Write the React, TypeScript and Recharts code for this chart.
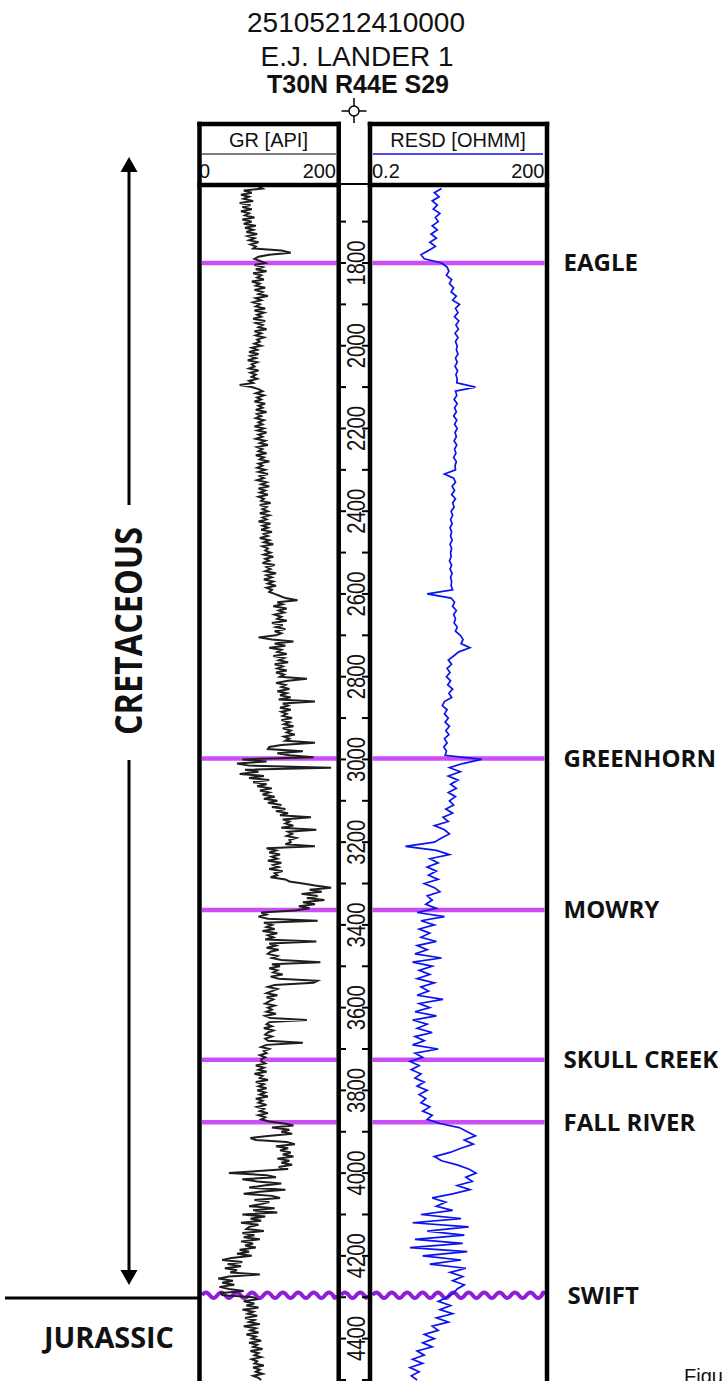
import React from "react";
import { LineChart, Line, XAxis, YAxis, ReferenceLine } from "recharts";

const W = 724;
const H = 1381;

const DEPTH_DOMAIN: [number, number] = [1611.5, 4502.5];
const DEPTH_TICKS = [
  1700, 1800, 1900, 2000, 2100, 2200, 2300, 2400, 2500, 2600, 2700, 2800, 2900, 3000, 3100,
  3200, 3300, 3400, 3500, 3600, 3700, 3800, 3900, 4000, 4100, 4200, 4300, 4400, 4500,
];

// GR [API] sampled every 5 ft from 1615 ft, one list per formation interval
const GR_START = 1615;
const GR_STEP = 5;
const GR_ABOVE_EAGLE = [
  84, 90, 62, 74, 58, 70, 62, 76, 56, 72, 60, 74, 58, 70, 64, 78, 60, 74, 62, 80,
  64, 76, 66, 82, 68, 78, 70, 84, 72, 80, 76, 118, 132, 100, 84, 78, 86,
];
const GR_EAGLE = [
  94, 78, 90, 80, 96, 76, 88, 82, 92, 74, 86, 80, 94, 78, 90, 84, 98, 80, 88, 76,
  86, 80, 94, 78, 92, 82, 88, 76, 94, 80, 90, 84, 96, 78, 88, 80, 92, 82, 86, 78,
  88, 74, 82, 70, 84, 72, 80, 68, 82, 74, 78, 70, 84, 72, 80, 74, 82, 70, 76, 56,
  74, 84, 90, 80, 92, 82, 88, 78, 94, 84, 90, 80, 96, 82, 88, 80, 92, 84, 90, 78,
  92, 82, 96, 84, 90, 80, 94, 86, 98, 82, 90, 84, 96, 80, 92, 86, 100, 84, 90, 82,
  94, 84, 98, 86, 92, 82, 96, 88, 100, 84, 94, 86, 98, 84, 92, 88, 102, 86, 96, 90,
  98, 86, 100, 90, 96, 84, 102, 90, 98, 88, 104, 92, 98, 86, 100, 92, 106, 90, 98, 94,
  102, 92, 106, 94, 100, 90, 108, 96, 102, 94, 110, 96, 104, 92, 106, 98, 110, 96, 104, 100,
  108, 116, 124, 142, 112, 120, 106, 126, 114, 122, 108, 118, 112, 126, 104, 120, 110, 124, 108, 118,
  110, 84, 104, 136, 108, 124, 100, 118, 112, 126, 106, 122, 114, 128, 108, 120, 112, 126, 110, 122,
  116, 156, 128, 110, 124, 118, 130, 112, 126, 116, 132, 114, 168, 120, 128, 116, 132, 118, 126, 120,
  134, 118, 130, 122, 136, 120, 132, 126, 138, 122, 130, 124, 168, 118, 100, 98, 150, 112, 130, 166,
];
const GR_GREENHORN = [
  60, 96, 52, 70, 192, 64, 84, 56, 92, 70, 100, 76, 96, 82, 104, 86, 100, 90, 108, 92,
  112, 98, 118, 104, 124, 110, 128, 116, 162, 120, 130, 124, 136, 118, 170, 128, 134, 126, 140, 130,
  132, 124, 168, 96, 110, 100, 116, 104, 112, 98, 118, 106, 114, 100, 120, 108, 112, 102, 124, 130,
  150, 168, 192, 160, 178, 148, 172, 156, 182, 150, 168, 144, 160, 138,
];
const GR_MOWRY = [
  88, 96, 84, 98, 172, 92, 104, 96, 108, 90, 112, 98, 106, 94, 170, 100, 110, 96, 114, 102,
  98, 112, 104, 118, 176, 104, 116, 100, 112, 106, 120, 102, 114, 172, 166, 108, 98, 112, 104, 96,
  112, 96, 106, 100, 94, 108, 98, 104, 96, 110, 94, 102, 156, 100, 96, 104, 92, 106, 98, 94,
  104, 94, 98, 150, 96, 88, 100, 92, 96, 86, 94, 88,
];
const GR_SKULL_CREEK = [
  88, 94, 80, 92, 84, 96, 78, 90, 86, 98, 80, 92, 84, 96, 82, 94, 86, 98, 80, 90,
  84, 96, 82, 92, 86, 98, 84, 94, 88, 100,
];
const GR_FALL_RIVER = [
  122, 136, 104, 130, 118, 134, 98, 72, 80, 126, 138, 110, 128, 116, 132, 120, 136, 112, 130, 118,
  134, 114, 128, 84, 40, 96, 110, 60, 82, 118, 92, 70, 124, 86, 62, 104, 116, 78, 100, 88,
  70, 108, 76, 112, 60, 94, 72, 88, 58, 84, 70, 66, 92, 60, 78, 62, 86, 58, 76, 64,
  80, 56, 70, 52, 74, 44, 30, 60, 38, 58, 34, 52, 42, 86, 40, 24, 46, 30, 48, 26, 40, 62, 28,
];
const GR_SWIFT = [
  30, 76, 82, 62, 78, 66, 84, 60, 76, 68, 82, 64, 78, 70, 86, 62, 80, 72, 84, 66,
  80, 74, 88, 70, 82, 76, 90, 72, 84, 78, 88, 74, 82, 78, 92, 76, 86, 80, 90, 76, 84, 88,
];

// RESD [OHMM] sampled every 10 ft from 1620 ft, same intervals
const RESD_START = 1620;
const RESD_STEP = 10;
const RESD_ABOVE_EAGLE = [3.2, 2.4, 2.9, 2.2, 2.7, 2.3, 3.0, 2.5, 2.8, 2.2, 2.7, 2.1, 2.6, 2.0, 2.5, 1.9, 1.4, 1.6];
const RESD_EAGLE = [
  3.2, 4.0, 4.3, 3.9, 4.8, 4.4, 5.2, 4.7, 5.8, 5.0, 6.6, 5.6, 6.2, 5.4, 6.4, 5.7, 6.3, 5.5, 6.2, 5.6, 6.0,
  5.8, 6.2, 5.6, 6.0, 5.5, 6.1, 5.7, 6.0, 5.9,
  12.5,
  5.6, 5.9, 5.3, 6.0, 5.4, 5.8, 5.2, 5.9, 5.4, 6.0, 5.5, 5.8, 5.3, 5.9, 5.4, 5.7, 5.2, 5.8, 5.5, 5.6,
  3.6, 5.2, 5.6, 4.9, 5.4, 4.8, 5.6, 5.0, 5.3, 4.7, 5.0, 4.6, 4.9, 4.5, 4.8, 4.6, 4.9, 4.5, 4.8, 4.6, 4.7, 4.4, 4.8, 4.5, 4.9, 4.6, 4.8, 4.7, 5.0, 1.8,
  4.7, 5.4, 5.0, 5.8, 5.2, 5.6, 5.3, 6.0, 5.6, 6.8, 7.6, 7.0, 10.0, 6.4, 5.2, 4.2, 4.8, 4.0, 4.5, 3.9,
  4.6, 4.1, 5.0, 4.3, 4.8, 3.6, 3.3, 4.0, 3.6, 4.2, 3.7, 4.4, 3.8, 4.3, 3.6, 4.0, 3.5, 3.9, 3.7,
];
const RESD_GREENHORN = [
  16, 7.5, 4.4, 6.8, 4.2, 6.2, 4.6, 5.8, 4.2, 5.6, 4.4, 5.2, 3.8, 5.0, 3.4, 4.2, 2.4, 3.6, 4.4, 3.2,
  2.4, 0.75, 2.6, 4.4, 2.0, 2.8, 1.8, 2.6, 1.9, 2.8, 1.6, 2.4, 3.0, 1.8, 2.2, 1.7, 2.6,
];
const RESD_MOWRY = [
  1.2, 3.6, 1.4, 2.4, 1.3, 2.0, 1.4, 2.6, 1.2, 1.8, 1.1, 3.2, 1.0, 2.2, 1.3, 2.0, 1.2, 2.4, 1.4, 1.9,
  1.2, 3.4, 1.3, 2.0, 1.1, 2.6, 1.0, 1.8, 1.2, 2.2, 1.1, 1.6, 1.0, 2.8, 1.1, 1.5,
];
const RESD_SKULL_CREEK = [0.9, 1.3, 0.95, 1.4, 1.1, 1.6, 1.2, 1.8, 1.3, 1.7, 1.4, 2.0, 1.5, 2.2, 1.8];
const RESD_FALL_RIVER = [
  3.0, 6.5, 9.0, 12.5, 8.0, 11.5, 7.0, 4.5, 2.4, 3.2, 6.0, 9.5, 12.8, 8.5, 11.0, 6.0, 10.0, 5.0, 2.2, 3.8,
  2.6, 5.0, 1.4, 7.0, 1.0, 9.5, 1.8, 8.0, 1.1, 7.5, 0.9, 9.0, 1.5, 7.0, 2.0, 8.5, 4.5, 7.5, 5.0, 8.0, 6.0, 5.2,
];
const RESD_SWIFT = [4.0, 2.8, 4.6, 3.0, 5.0, 2.6, 4.2, 2.2, 2.8, 1.6, 2.4, 1.5, 2.2, 1.2, 1.6, 1.0, 1.5, 0.9, 1.3, 0.95, 1.2];

// formation tops (ft)
const FORMATIONS = ["EAGLE", "GREENHORN", "MOWRY", "SKULL CREEK", "FALL RIVER", "SWIFT"];
const TOP_DEPTHS = [1800, 2998, 3364, 3726, 3877, 4295];

const GR = [
  ...GR_ABOVE_EAGLE, ...GR_EAGLE, ...GR_GREENHORN, ...GR_MOWRY,
  ...GR_SKULL_CREEK, ...GR_FALL_RIVER, ...GR_SWIFT,
];
const RESD = [
  ...RESD_ABOVE_EAGLE, ...RESD_EAGLE, ...RESD_GREENHORN, ...RESD_MOWRY,
  ...RESD_SKULL_CREEK, ...RESD_FALL_RIVER, ...RESD_SWIFT,
];
const grRows = GR.map((gr, i) => ({ depth: GR_START + i * GR_STEP, gr }));
const resdRows = RESD.map((resd, i) => ({ depth: RESD_START + i * RESD_STEP, resd }));

const TOP_COLOR = "#cc4cf5";
const SWIFT_COLOR = "#8f1ed8";
const LABEL_FONT = "'Open Sans', 'DejaVu Sans', sans-serif";
const HEAD_FONT = "'Liberation Sans', Arial, sans-serif";

const abs: React.CSSProperties = { position: "absolute", left: 0, top: 0 };

// unconformity drawn as a wave along the reference line
const wavyLine = (p: any) => {
  const { x1, x2, y1 } = p;
  const half = 7.7;
  let d = `M${x1},${y1}`;
  let up = true;
  for (let x = x1; x < x2 - 0.5; x += half) {
    const nx = Math.min(x + half, x2);
    d += ` Q${(x + nx) / 2},${y1 + (up ? -5.5 : 5.5)} ${nx},${y1}`;
    up = !up;
  }
  return <path d={d} stroke={SWIFT_COLOR} strokeWidth={4} fill="none" />;
};

const topLabel = (name: string, dx: number) => (p: any) => {
  const vb = p.viewBox || {};
  return (
    <text
      x={vb.x + vb.width + dx}
      y={vb.y}
      dy="0.35em"
      fontFamily={LABEL_FONT}
      fontWeight={700}
      fontSize={24}
      fill="#111"
    >
      {name}
    </text>
  );
};

const DepthTick = (p: any) => {
  const { x, y, payload } = p;
  const d = payload.value;
  return (
    <g>
      <line x1={x} x2={x + 5} y1={y} y2={y} stroke="#000" strokeWidth={2} />
      <line x1={x + 21} x2={x + 27} y1={y} y2={y} stroke="#000" strokeWidth={2} />
      {d % 200 === 0 && (
        <text
          x={x + 24}
          y={y}
          transform={`rotate(-90 ${x + 24} ${y})`}
          textAnchor="middle"
          fontFamily={HEAD_FONT}
          fontSize={25}
          textLength={45}
          lengthAdjust="spacingAndGlyphs"
          fill="#111"
        >
          {d}
        </text>
      )}
    </g>
  );
};

function formationLines(withLabels: boolean) {
  return FORMATIONS.map((name, i) => {
    const isSwift = name === "SWIFT";
    return (
      <ReferenceLine
        key={name}
        y={TOP_DEPTHS[i]}
        stroke={TOP_COLOR}
        strokeWidth={4.5}
        ifOverflow="visible"
        shape={isSwift ? wavyLine : undefined}
        label={withLabels ? topLabel(name, isSwift ? 23 : 19) : undefined}
      />
    );
  });
}

export default function App() {
  return (
    <div style={{ ...abs, width: W, height: H, overflow: "hidden", background: "#fff" }}>
      {/* GR track */}
      <LineChart
        layout="vertical"
        width={W}
        height={H}
        data={grRows}
        margin={{ top: 185, bottom: 0, left: 202, right: W - 336.5 }}
        style={abs}
      >
        <XAxis type="number" domain={[0, 200]} allowDataOverflow hide />
        <YAxis type="number" dataKey="depth" domain={DEPTH_DOMAIN} allowDataOverflow hide />
        {formationLines(false)}
        <Line
          dataKey="gr"
          stroke="#1e1e1e"
          strokeWidth={2}
          dot={false}
          isAnimationActive={false}
          type="linear"
        />
      </LineChart>

      {/* depth track: plot spans 341..368 */}
      <LineChart
        layout="vertical"
        width={W}
        height={H}
        data={grRows}
        margin={{ top: 185, bottom: 0, left: 314, right: W - 368 }}
        style={abs}
      >
        <XAxis type="number" domain={[0, 200]} hide />
        <YAxis
          type="number"
          dataKey="depth"
          domain={DEPTH_DOMAIN}
          allowDataOverflow
          ticks={DEPTH_TICKS}
          interval={0}
          width={27}
          tickSize={0}
          tickMargin={0}
          axisLine={false}
          tickLine={false}
          tick={<DepthTick />}
        />
        <Line dataKey="gr" stroke="none" dot={false} isAnimationActive={false} />
        <ReferenceLine y={TOP_DEPTHS[5]} ifOverflow="visible" shape={wavyLine} />
      </LineChart>

      {/* RESD track */}
      <LineChart
        layout="vertical"
        width={W}
        height={H}
        data={resdRows}
        margin={{ top: 185, bottom: 0, left: 372.5, right: W - 544.5 }}
        style={abs}
      >
        <XAxis type="number" scale="log" domain={[0.2, 200]} allowDataOverflow hide />
        <YAxis type="number" dataKey="depth" domain={DEPTH_DOMAIN} allowDataOverflow hide />
        {formationLines(true)}
        <Line
          dataKey="resd"
          stroke="#0a14f0"
          strokeWidth={1.7}
          dot={false}
          isAnimationActive={false}
          type="linear"
        />
      </LineChart>

      {/* header, borders and annotations */}
      <svg width={W} height={H} style={{ ...abs, pointerEvents: "none" }}>
        <g fontFamily={HEAD_FONT} fill="#111" textAnchor="middle">
          <text x={356} y={32} fontSize={28}>25105212410000</text>
          <text x={357} y={66} fontSize={28}>E.J. LANDER 1</text>
          <text x={358} y={93} fontSize={25} fontWeight={700}>T30N R44E S29</text>
          <text x={268.5} y={147} fontSize={20}>GR [API]</text>
          <text x={458} y={147} fontSize={20}>RESD [OHMM]</text>
          <text x={199} y={178} fontSize={20} textAnchor="start">0</text>
          <text x={336} y={178} fontSize={20} textAnchor="end">200</text>
          <text x={372} y={178} fontSize={20} textAnchor="start">0.2</text>
          <text x={544.5} y={178} fontSize={20} textAnchor="end">200</text>
        </g>

        {/* well symbol */}
        <circle cx={354} cy={111} r={5} fill="#fff" stroke="#000" strokeWidth={1.5} />
        <line x1={341.5} x2={349} y1={111} y2={111} stroke="#000" strokeWidth={1.5} />
        <line x1={359} x2={366.5} y1={111} y2={111} stroke="#000" strokeWidth={1.5} />
        <line x1={354} x2={354} y1={98} y2={106} stroke="#000" strokeWidth={1.5} />
        <line x1={354} x2={354} y1={116} y2={123} stroke="#000" strokeWidth={1.5} />

        <line x1={202} x2={336} y1={154} y2={154} stroke="#555" strokeWidth={1.5} />
        <line x1={373} x2={543} y1={154} y2={154} stroke="#1010ee" strokeWidth={1.5} />

        <g stroke="#000" strokeWidth={4.5}>
          <line x1={197.25} x2={341} y1={124} y2={124} />
          <line x1={367.75} x2={549.25} y1={124} y2={124} />
          <line x1={197.25} x2={341} y1={185} y2={185} />
          <line x1={367.75} x2={549.25} y1={185} y2={185} />
          <line x1={199.5} x2={199.5} y1={121.75} y2={H} />
          <line x1={338.7} x2={338.7} y1={121.75} y2={H} />
          <line x1={370} x2={370} y1={121.75} y2={H} />
          <line x1={547} x2={547} y1={121.75} y2={H} />
        </g>
        <line x1={339} x2={370} y1={184} y2={184} stroke="#000" strokeWidth={2} />

        {/* Cretaceous range arrow */}
        <line x1={129} x2={129} y1={170} y2={505} stroke="#000" strokeWidth={3} />
        <polygon points="129,157 120.5,172 137.5,172" fill="#000" />
        <text
          x={141.5}
          y={631}
          transform="rotate(-90 141.5 631)"
          textAnchor="middle"
          fontFamily={LABEL_FONT}
          fontWeight={700}
          fontSize={37}
          textLength={208}
          lengthAdjust="spacingAndGlyphs"
          fill="#111"
        >
          CRETACEOUS
        </text>
        <line x1={129} x2={129} y1={760} y2={1272} stroke="#000" strokeWidth={3} />
        <polygon points="120.5,1270 137.5,1270 129,1285" fill="#000" />

        <line x1={5} x2={199.5} y1={1298} y2={1298} stroke="#000" strokeWidth={3} />
        <text
          x={44}
          y={1348}
          fontFamily={LABEL_FONT}
          fontWeight={700}
          fontSize={29}
          textLength={130}
          lengthAdjust="spacingAndGlyphs"
          fill="#111"
        >
          JURASSIC
        </text>

        <text x={684} y={1383} fontFamily={HEAD_FONT} fontSize={20} fill="#111">
          Figure
        </text>
      </svg>
    </div>
  );
}
